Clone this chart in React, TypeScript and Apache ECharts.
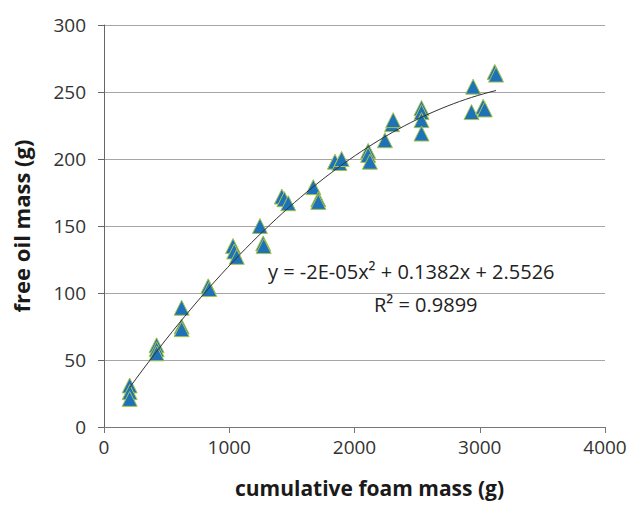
import React, { useEffect, useRef } from "react";
import * as echarts from "echarts";

// cumulative foam mass (g)
const foamMass: number[] = [
  205, 205, 205,
  420, 420, 420,
  620, 620, 620,
  832, 840,
  1030, 1040, 1060,
  1245, 1271, 1275,
  1420, 1440, 1471,
  1671, 1711, 1711,
  1844, 1880, 1897,
  2109, 2109, 2123,
  2243, 2300, 2309,
  2535, 2535, 2535, 2535,
  2934, 2947, 3027, 3040,
  3120, 3130,
];
// free oil mass (g)
const freeOil: number[] = [
  31, 26, 21,
  61, 58, 55,
  89, 75, 73,
  105, 103,
  135, 131, 127,
  150, 137, 135,
  172, 170, 167,
  179, 170, 168,
  198, 197, 200,
  206, 203, 198,
  214, 226, 229,
  238, 235, 229, 219,
  235, 254, 239, 237,
  265, 263,
];

const xTicks = [0, 1000, 2000, 3000, 4000];
const yTicks = [0, 50, 100, 150, 200, 250, 300];
const equationText = "y = -2E-05x\u00B2 + 0.1382x + 2.5526";
const r2Text = "R\u00B2 = 0.9899";

// least-squares quadratic fit of the scatter data (Excel-style trendline)
function quadFit(xs: number[], ys: number[]): [number, number, number] {
  let s0 = 0, s1 = 0, s2 = 0, s3 = 0, s4 = 0, t0 = 0, t1 = 0, t2 = 0;
  for (let i = 0; i < xs.length; i++) {
    const x = xs[i], y = ys[i];
    s0 += 1; s1 += x; s2 += x * x; s3 += x * x * x; s4 += x * x * x * x;
    t0 += y; t1 += x * y; t2 += x * x * y;
  }
  const M = [
    [s4, s3, s2, t2],
    [s3, s2, s1, t1],
    [s2, s1, s0, t0],
  ];
  for (let c = 0; c < 3; c++) {
    let p = c;
    for (let r = c + 1; r < 3; r++) if (Math.abs(M[r][c]) > Math.abs(M[p][c])) p = r;
    [M[c], M[p]] = [M[p], M[c]];
    for (let r = 0; r < 3; r++) {
      if (r === c) continue;
      const f = M[r][c] / M[c][c];
      for (let k = c; k < 4; k++) M[r][k] -= f * M[c][k];
    }
  }
  return [M[0][3] / M[0][0], M[1][3] / M[1][1], M[2][3] / M[2][2]];
}

export default function App() {
  const ref = useRef<HTMLDivElement>(null);
  useEffect(() => {
    if (!ref.current) return;
    const chart = echarts.init(ref.current, undefined, { renderer: "svg" });
    const [a, b, c] = quadFit(foamMass, freeOil);
    const xMin = Math.min(...foamMass);
    const xMax = Math.max(...foamMass);
    const trend: number[][] = [];
    for (let i = 0; i <= 60; i++) {
      const x = xMin + ((xMax - xMin) * i) / 60;
      trend.push([x, a * x * x + b * x + c]);
    }
    const font = "'Open Sans', 'Liberation Sans', sans-serif";
    chart.setOption({
      animation: false,
      backgroundColor: "#ffffff",
      textStyle: { fontFamily: font },
      grid: { left: 104, right: 29, top: 25, bottom: 78, containLabel: false },
      xAxis: {
        type: "value",
        min: xTicks[0],
        max: xTicks[xTicks.length - 1],
        interval: 1000,
        name: "cumulative foam mass (g)",
        nameLocation: "middle",
        nameGap: 50,
        nameTextStyle: {
          fontSize: 21,
          fontWeight: "bold",
          color: "#1a1a1a",
          fontFamily: font,
          padding: [0, 0, 0, 30],
        },
        axisLine: { show: true, lineStyle: { color: "#777", width: 1 } },
        axisTick: { show: true, length: 6, lineStyle: { color: "#777" } },
        axisLabel: {
          fontSize: 19,
          color: "#333",
          margin: 10,
          fontFamily: font,
          formatter: (v: number) => String(v),
        },
        splitLine: { show: false },
      },
      yAxis: {
        type: "value",
        min: yTicks[0],
        max: yTicks[yTicks.length - 1],
        interval: 50,
        name: "free oil mass (g)",
        nameLocation: "middle",
        nameGap: 72,
        nameTextStyle: { fontSize: 22, fontWeight: "bold", color: "#1a1a1a", fontFamily: font },
        axisLine: { show: true, lineStyle: { color: "#666", width: 1 } },
        axisTick: { show: true, length: 6, inside: false, lineStyle: { color: "#666" } },
        axisLabel: { fontSize: 19, color: "#333", margin: 18, fontFamily: font },
        splitLine: { show: true, lineStyle: { color: "#a6a6a6", width: 1 } },
      },
      graphic: [
        {
          type: "text",
          left: 268,
          top: 261,
          style: { text: equationText, fontSize: 20, fill: "#222", fontFamily: font },
          z: 100,
        },
        {
          type: "text",
          left: 374,
          top: 294,
          style: { text: r2Text, fontSize: 20, fill: "#222", fontFamily: font },
          z: 100,
        },
      ],
      series: [
        {
          type: "scatter",
          data: foamMass.map((x, i) => [x, freeOil[i]]),
          symbol: "triangle",
          symbolSize: 15,
          itemStyle: { color: "#1d72b8", borderColor: "#a8c34c", borderWidth: 1, opacity: 1 },
          z: 3,
        },
        {
          type: "line",
          data: trend,
          showSymbol: false,
          symbol: "none",
          smooth: false,
          lineStyle: { color: "#333", width: 1 },
          z: 4,
        },
      ],
    });
    return () => chart.dispose();
  }, []);
  return (
    <div
      ref={ref}
      style={{ position: "fixed", left: 0, top: 0, width: 634, height: 505 }}
    />
  );
}
